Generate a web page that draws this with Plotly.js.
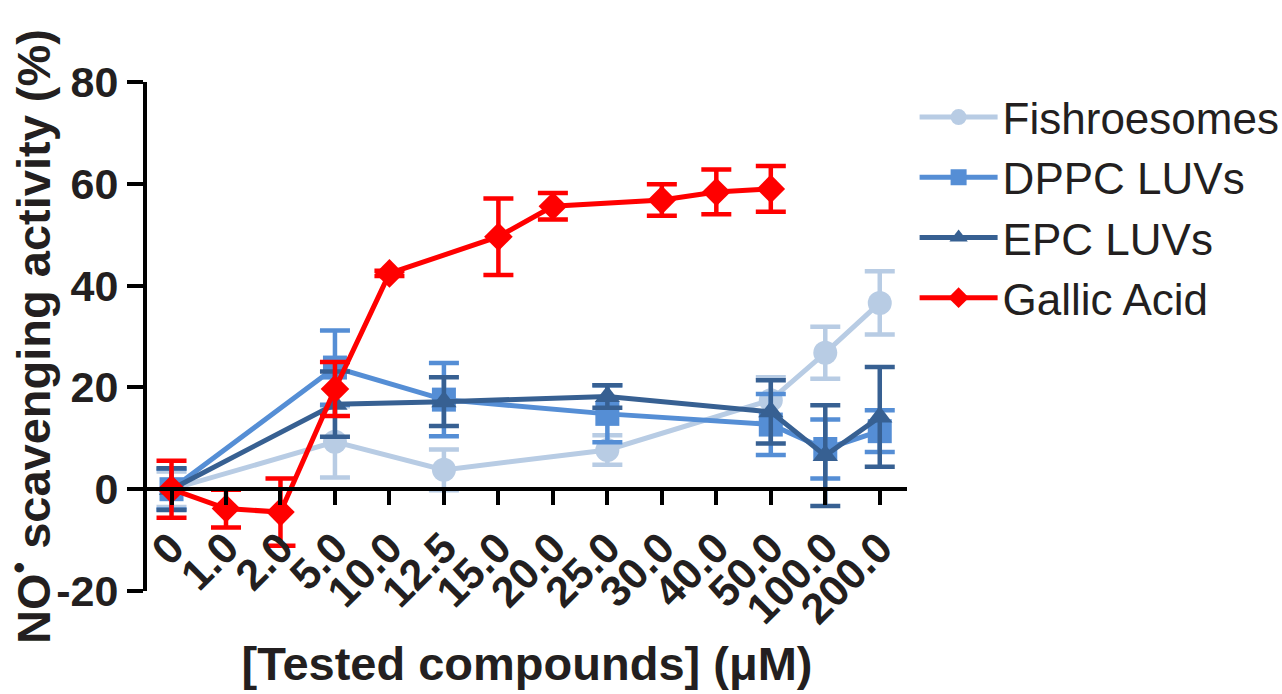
<!DOCTYPE html>
<html>
<head>
<meta charset="utf-8">
<script src="https://cdn.plot.ly/plotly-3.0.1.min.js"></script>
<style>
html,body{margin:0;padding:0;background:#fff;}
#chart{width:1282px;height:694px;}
</style>
</head>
<body>
<div id="chart"></div>
<script>
// Category tick labels (concentrations, µM)
const categories = ["0","1.0","2.0","5.0","10.0","12.5","15.0","20.0","25.0","30.0","40.0","50.0","100.0","200.0"];

// Liposome series share these concentrations
const lipoX = ["0","5.0","12.5","25.0","50.0","100.0","200.0"];
const fishY   = [0, 9.3, 3.8, 7.7, 17.5, 26.8, 36.6];
const fishErr = [3.5, 7.0, 4.0, 2.9, 4.5, 5.1, 6.2];
const dppcY   = [0, 23.9, 17.6, 14.8, 12.7, 7.9, 11.4];
const dppcErr = [4.0, 7.3, 7.2, 5.6, 6.0, 5.8, 4.1];
const epcY    = [0, 16.7, 17.2, 18.2, 15.2, 6.6, 14.2];
const epcErr  = [4.1, 6.4, 4.8, 2.2, 6.2, 9.9, 9.8];

// Gallic acid
const gallicX   = ["0","1.0","2.0","5.0","10.0","15.0","20.0","30.0","40.0","50.0"];
const gallicY   = [0, -3.8, -4.5, 19.7, 42.4, 49.6, 55.6, 56.8, 58.4, 59.0];
const gallicErr = [5.6, 3.7, 6.6, 5.3, 0.5, 7.5, 2.6, 3.1, 4.4, 4.5];

// Y ticks
const yTickVals = [-20, 0, 20, 40, 60, 80];
const yTickText = ["-20", "0", "20", "40", "60", "80"];

const FONT = "Liberation Sans, Arial, Helvetica, sans-serif";

function series(name, x, y, err, color, symbol, size) {
  return {
    type: "scatter", mode: "lines+markers", name: name,
    x: x, y: y,
    line: {color: color, width: 5},
    marker: {color: color, symbol: symbol, size: size, line: {width: 0}},
    error_y: {type: "data", array: err, visible: true, color: color, thickness: 4.5, width: 15},
    cliponaxis: false
  };
}

const data = [
  series("Fishroesomes", lipoX, fishY, fishErr, "#b8cce4", "circle", 24),
  series("DPPC LUVs", lipoX, dppcY, dppcErr, "#558ed5", "square", 24),
  series("EPC LUVs", lipoX, epcY, epcErr, "#376092", "triangle-up", 22),
  series("Gallic Acid", gallicX, gallicY, gallicErr, "#ff0000", "diamond", 22)
];

const layout = {
  width: 1282, height: 694,
  margin: {l: 147, r: 375, t: 82, b: 103, pad: 0, autoexpand: false},
  paper_bgcolor: "#fff", plot_bgcolor: "#fff",
  font: {family: FONT, color: "#231f20"},
  showlegend: true,
  legend: {
    x: 1.01, y: 1.0, xanchor: "left", yanchor: "top",
    itemwidth: 78,
    font: {family: FONT, size: 44, color: "#231f20"},
    tracegroupgap: 0, bgcolor: "rgba(0,0,0,0)"
  },
  xaxis: {
    type: "category",
    categoryorder: "array", categoryarray: categories,
    range: [-0.45, 13.5],
    anchor: "free", position: 0.2,
    showline: true, linecolor: "#000", linewidth: 4,
    ticks: "outside", ticklen: 14, tickwidth: 4, tickcolor: "#000",
    showgrid: false, zeroline: false,
    tickangle: -45,
    tickfont: {family: FONT, size: 43, weight: "bold", color: "#231f20"},
    title: {text: "[Tested compounds] (μM)", font: {family: FONT, size: 47, weight: "bold", color: "#231f20"}, standoff: 14}
  },
  yaxis: {
    range: [-20, 80],
    tickmode: "array", tickvals: yTickVals, ticktext: yTickText,
    showline: true, linecolor: "#000", linewidth: 4,
    ticks: "outside", ticklen: 16, tickwidth: 4, tickcolor: "#000",
    showgrid: false, zeroline: false,
    tickfont: {family: FONT, size: 43, weight: "bold", color: "#231f20"},
    title: {text: "NO<sup>•</sup> scavenging activity (%)", font: {family: FONT, size: 47, weight: "bold", color: "#231f20"}, standoff: 2}
  }
};

Plotly.newPlot("chart", data, layout, {displayModeBar: false, staticPlot: true});
</script>
</body>
</html>
